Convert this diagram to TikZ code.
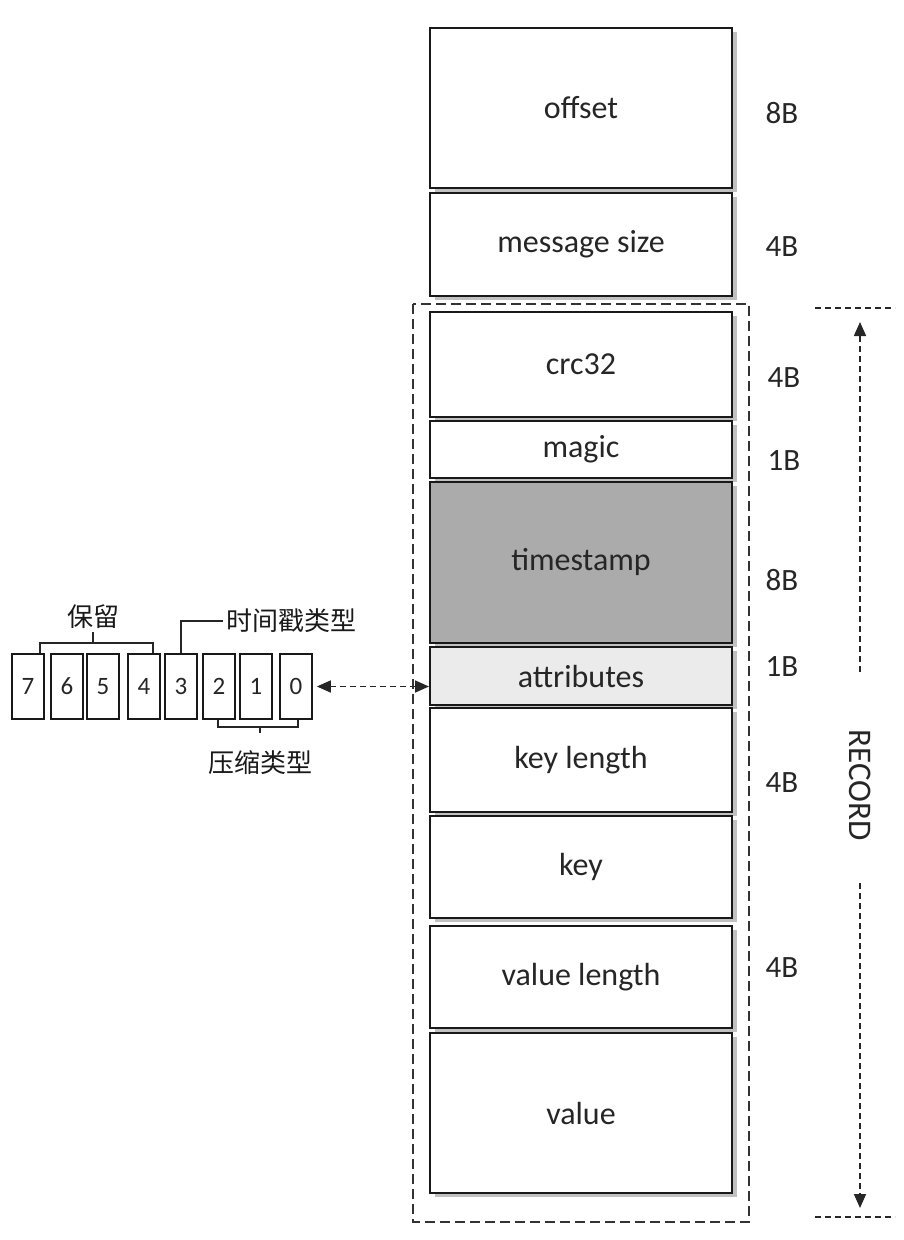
\documentclass[tikz,border=0pt]{standalone}
\usepackage{fontspec}
\setmainfont{Carlito}
\newfontfamily\cjk{Noto Sans CJK SC}
\usetikzlibrary{shapes,arrows.meta,positioning,calc,shadows}

\begin{document}
\begin{tikzpicture}[x=1pt,y=-1pt,
	field/.style={draw=black!90,line width=2pt,fill=white,minimum width=302pt,inner sep=0pt,
		font=\fontsize{32}{36}\selectfont,text=black!85,
		drop shadow={shadow xshift=5pt,shadow yshift=-4pt,fill=black!35,opacity=0.7}},
	bytes/.style={anchor=west,font=\fontsize{31}{36}\selectfont,text=black!85},
	bit/.style={draw=black!90,line width=1.7pt,minimum width=32pt,minimum height=65pt,inner sep=0pt,
		font=\fontsize{25}{28}\selectfont,text=black!85},
	cjklabel/.style={font=\cjk\fontsize{26}{30}\selectfont,text=black!90},
	marker/.style={line width=1.7pt,black!85,dash pattern=on 6pt off 4pt},
	tip/.style={-{Triangle[length=14pt,width=12pt]}}]
				\useasboundingbox (0,0) rectangle (904,1240);

				% message fields
				\node[field,minimum height=160pt] (offset) at (581,108) {offset};
				\node[field,minimum height=103pt] (msgsize) at (581,244.5) {message size};
				\node[field,minimum height=105pt] (crc) at (581,364.5) {crc32};
				\node[field,minimum height=57pt] (magic) at (581,449.5) {magic};
				\node[field,minimum height=161pt,fill=black!33] (timestamp) at (581,562.5) {timestamp};
				\node[field,minimum height=58pt,fill=black!8] (attributes) at (581,676) {attributes};
				\node[field,minimum height=104pt] (keylength) at (581,760) {key length};
				\node[field,minimum height=102pt] (key) at (581,867) {key};
				\node[field,minimum height=102pt] (valuelength) at (581,977) {value length};
				\node[field,minimum height=160pt] (value) at (581,1113) {value};

				% sizes
				\node[bytes] (s1) at (762,113) {8B};
				\node[bytes] (s2) at (762,247) {4B};
				\node[bytes] (s3) at (764,378) {4B};
				\node[bytes] (s4) at (764,461) {1B};
				\node[bytes] (s5) at (762,580) {8B};
				\node[bytes] (s6) at (762,667) {1B};
				\node[bytes] (s7) at (762,783) {4B};
				\node[bytes] (s8) at (762,968) {4B};

				% record frame
				\draw[line width=1.5pt,black!80,dash pattern=on 10pt off 5pt] (413,304) rectangle (749,1222);

				\coordinate (rtopl) at (815,308);
				\coordinate (rtopr) at (895,308);
				\coordinate (rbotl) at (815,1217);
				\coordinate (rbotr) at (895,1217);
				\draw[marker] (rtopl) -- (rtopr);
				\draw[marker] (rbotl) -- (rbotr);
				\node[rotate=-90,font=\fontsize{33}{36}\selectfont,text=black!85] (record) at (860,785) {RECORD};
				\coordinate (upstart) at (860,672);
				\coordinate (upend) at (860,322);
				\coordinate (downstart) at (860,883);
				\coordinate (downend) at (860,1208);
				\draw[marker,tip] (upstart) -- (upend);
				\draw[marker,tip] (downstart) -- (downend);

				% attribute bits
				\foreach \b/\x in {7/28,6/67,5/103,4/144,3/181,2/219,1/256,0/296}
					\node[bit] (bit\b) at (\x,686.5) {\b};

				\node[cjklabel] (keep) at (93,617) {保留};
				\draw[line width=1.6pt,black!85] (40,653) -- (40,643) -- (153,643) -- (153,653);
				\draw[line width=1.6pt,black!85] (93,643) -- (keep.south);

				\node[cjklabel,anchor=west] (tstype) at (223,621) {时间戳类型};
				\draw[line width=1.6pt,black!85] (bit3.north) |- (tstype.west);

				\node[cjklabel] (comp) at (260,763) {压缩类型};
				\draw[line width=1.6pt,black!85] (218,720) -- (218,727) -- (298,727) -- (298,720);
				\draw[line width=1.6pt,black!85] (260,727) -- (260,733);

				\draw[marker,{Triangle[length=14pt,width=12pt]}-{Triangle[length=14pt,width=12pt]},shorten <=4pt]
					(bit0.east) -- (bit0.east -| attributes.west);
			\end{tikzpicture}
\end{document}
